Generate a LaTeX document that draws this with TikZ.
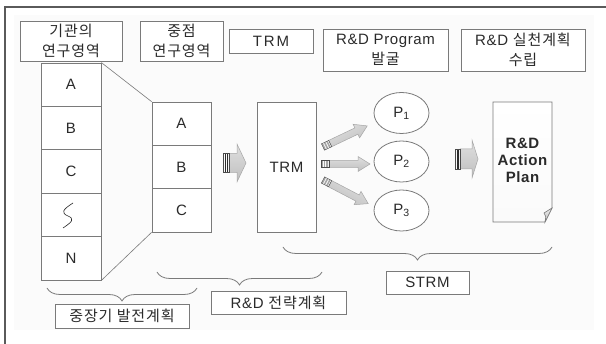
\documentclass[tikz,border=0pt]{standalone}
\usepackage{fontspec}
\setmainfont{Liberation Sans}[LetterSpace=4]
\newfontfamily\kr{Noto Sans CJK KR}[LetterSpace=6]
\usetikzlibrary{shapes.geometric,decorations.pathreplacing}
\definecolor{boxc}{HTML}{7A7A7A}
\definecolor{txtc}{HTML}{2A2A2A}
\definecolor{framec}{HTML}{5A5A5A}
\newcommand\blkarr[9]{% x y angle len bodyhalf headhalf headlen stripelen stripecolor
  \begin{scope}[shift={(#1,#2)},rotate=#3]
    \shade[arrshade,shading angle=#3] (#8,-#5) -- ({#4-#7},-#5) -- ({#4-#7},-#6) -- (#4,0) -- ({#4-#7},#6) -- ({#4-#7},#5) -- (#8,#5) -- cycle;
    \foreach \k in {0,0.33,0.66}{\fill[#9] ({\k*#8},-#5) rectangle ({\k*#8+0.2*#8},#5);}
    \draw[gray!60!black,line width=.4pt] (0,-#5) rectangle (#8,#5);
  \end{scope}}
\tikzset{
  lbl/.style={draw=boxc, line width=0.8pt, fill=white, inner sep=0pt, align=center, text=txtc, font=\fontsize{15}{20}\selectfont},
  cell/.style={draw=boxc, line width=0.8pt, fill=white, inner sep=0pt, text=txtc, font=\fontsize{15}{18}\selectfont},
  pell/.style={ellipse, draw=boxc, line width=0.8pt, fill=white, minimum width=55pt, minimum height=41pt, inner sep=0pt, text=txtc, font=\fontsize{15}{18}\selectfont},
  arrshade/.style={draw=gray!70, line width=.5pt, top color=gray!25, middle color=gray!3, bottom color=gray!50},
  brc/.style={draw=boxc, line width=0.8pt, decorate, decoration={brace,mirror,amplitude=13pt}},
}
\begin{document}
\begin{tikzpicture}[x=1pt,y=-1pt]
\useasboundingbox (0,0) rectangle (606,344);
\fill[gray!3] (14,15) rectangle (594,330);
\draw[framec,line width=1.6pt] (5,344) -- (5,7) -- (606,7);
% top labels
\node[lbl, minimum width=102pt, minimum height=40pt] (t1) at (71,41) {\kr 기관의\\\kr 연구영역};
\node[lbl, minimum width=83pt, minimum height=40pt] (t2) at (181.5,41) {\kr 중점\\\kr 연구영역};
\node[lbl, minimum width=84pt, minimum height=24pt, font=\fontsize{15}{20}\selectfont\addfontfeatures{LetterSpace=12}] (t3) at (271,41) {TRM};
\node[lbl, minimum width=125pt, minimum height=42pt] (t4) at (385.5,50) {R\&D Program\\\kr 발굴};
\node[lbl, minimum width=124pt, minimum height=42pt] (t5) at (523,50) {R\&D {\kr 실천계획}\\\kr 수립};
% left column
\node[cell, minimum width=60pt, minimum height=43.4pt] (l1) at (71,84.7) {A};
\node[cell, minimum width=60pt, minimum height=43.4pt] (l2) at (71,128.1) {B};
\node[cell, minimum width=60pt, minimum height=43.4pt] (l3) at (71,171.5) {C};
\node[cell, minimum width=60pt, minimum height=43.4pt] (l4) at (71,214.9) {};
\node[cell, minimum width=60pt, minimum height=43.4pt] (l5) at (71,258.3) {N};
\draw[txtc, line width=0.6pt] (73,203) .. controls (62,210) and (61,213) .. (68,216) .. controls (75,219) and (72,222) .. (63,228);
% middle column
\node[cell, minimum width=59pt, minimum height=43.3pt] (m1) at (181.5,123.7) {A};
\node[cell, minimum width=59pt, minimum height=43.3pt] (m2) at (181.5,167) {B};
\node[cell, minimum width=59pt, minimum height=43.3pt] (m3) at (181.5,210.3) {C};
\draw[boxc, line width=0.6pt] (l1.north east) -- (m1.north west);
\draw[boxc, line width=0.6pt] (l5.south east) -- (m3.south west);
% TRM
\node[cell, minimum width=59pt, minimum height=130pt] (trm) at (286.5,167) {TRM};
% P ellipses
\node[pell] (p1) at (401.5,113) {P\textsubscript{1}};
\node[pell] (p2) at (401.5,161.5) {P\textsubscript{2}};
\node[pell] (p3) at (401.5,210.5) {P\textsubscript{3}};
% action plan document
\shade[top color=white, bottom color=gray!4, draw=boxc, line width=0.8pt] (493,102) -- (552,102) -- (552,208) -- (545,222) -- (493,222) -- cycle;
\shade[top color=gray!15, bottom color=gray!50, draw=boxc, line width=0.6pt] (552,208) -- (545,222) .. controls (546,216) .. (544,213) -- cycle;
\node[font=\bfseries\fontsize{15}{17}\selectfont, text=txtc, align=center] (ap) at (522.5,160) {R\&D\\Action\\Plan};
% arrows
\blkarr{223}{163}{0}{23}{9.5}{19}{9}{6}{gray!35!black}
\blkarr{455}{159}{0}{23}{10}{19}{6}{5}{gray!35!black}
\blkarr{321}{164}{0}{49}{3.5}{7.5}{12}{8}{gray!70}
\blkarr{323}{147}{25.5}{49}{3.5}{7.5}{12}{8}{gray!70}
\blkarr{323}{180}{-27.6}{51}{3.5}{7.5}{12}{8}{gray!70}
% braces
\draw[brc] (47,288) -- (197,288);
\draw[brc] (157,272) -- (322,272);
\draw[brc] (283,247) -- (552,247);
% bottom labels
\node[lbl, minimum width=134pt, minimum height=24pt] (b1) at (122,316) {\kr 중장기 발전계획};
\node[lbl, minimum width=135pt, minimum height=23pt] (b2) at (278.5,302.5) {R\&D {\kr 전략계획}};
\node[lbl, minimum width=83pt, minimum height=23pt] (b3) at (427.5,282.5) {STRM};
\end{tikzpicture}
\end{document}
